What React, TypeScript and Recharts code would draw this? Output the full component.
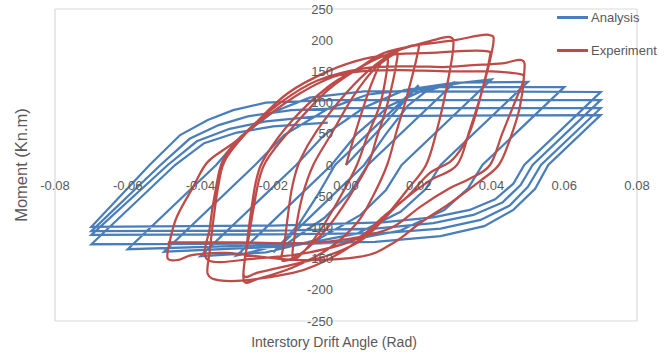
import React from "react";
import { LineChart, Line, XAxis, YAxis, CartesianGrid, ReferenceDot } from "recharts";

type Pt = [number, number];

const xTicks = [-0.08, -0.06, -0.04, -0.02, 0, 0.02, 0.04, 0.06, 0.08];
const yTicks = [-250, -200, -150, -100, -50, 0, 50, 100, 150, 200, 250];

// Analysis: bilinear-ish cycles, drift amplitude grows 0.02 -> 0.07, then repeats at 0.07
const analysisStart: Pt[] = [[0, 0], [0.01, 62], [0.016, 102]];
const analysis002: Pt[] = [[0.02, 128], [-0.003, 0], [-0.008, -50], [-0.013, -95], [-0.02, -140], [0.005, 0], [0.011, 50], [0.017, 95], [0.022, 118]];
const analysis003: Pt[] = [[0.03, 133], [0.006, 0], [0.001, -45], [-0.006, -85], [-0.016, -125], [-0.03, -145], [-0.004, 0], [0.003, 50], [0.012, 95], [0.022, 122], [0.032, 132]];
const analysis004: Pt[] = [[0.04, 137], [0.0153, 0], [0.011, -40], [0.004, -80], [-0.008, -120], [-0.022, -140], [-0.04, -146], [-0.0137, 0], [-0.006, 48], [0.005, 92], [0.016, 120], [0.03, 132]];
const analysis005: Pt[] = [[0.05, 133], [0.026, 0], [0.022, -38], [0.015, -75], [0.003, -110], [-0.015, -130], [-0.05, -139], [-0.025, 0], [-0.017, 48], [-0.005, 90], [0.006, 113], [0.025, 125]];
const analysis006: Pt[] = [[0.06, 125], [0.0375, 0], [0.0335, -38], [0.027, -72], [0.015, -105], [-0.003, -125], [-0.06, -135], [-0.0357, 0], [-0.029, 45], [-0.02, 85], [-0.01, 108], [0.005, 118], [0.02, 118]];
const analysis007a: Pt[] = [[0.07, 117], [0.049, 0], [0.046, -30], [0.041, -55], [0.034, -72], [0.024, -84], [0.01, -92], [-0.02, -97], [-0.07, -99], [-0.054, 0], [-0.0456, 48], [-0.038, 72], [-0.031, 88], [-0.022, 100], [-0.005, 104]];
const analysis007b: Pt[] = [[0.07, 104], [0.0513, 0], [0.048, -32], [0.043, -60], [0.035, -80], [0.024, -93], [0.008, -102], [-0.02, -105], [-0.07, -106], [-0.051, 0], [-0.043, 42], [-0.035, 64], [-0.027, 78], [-0.015, 88], [0, 91]];
const analysis007c: Pt[] = [[0.07, 91], [0.0536, 0], [0.05, -35], [0.045, -65], [0.037, -88], [0.026, -102], [0.01, -109], [-0.02, -111], [-0.07, -112], [-0.049, 0], [-0.041, 38], [-0.032, 58], [-0.022, 70], [-0.008, 78]];
const analysis007d: Pt[] = [[0.07, 80], [0.0556, 0], [0.052, -38], [0.046, -72], [0.038, -98], [0.026, -114], [0.008, -123], [-0.02, -126], [-0.07, -127], [-0.047, 0], [-0.039, 35], [-0.03, 52], [-0.02, 62], [-0.005, 68]];

// Experiment: measured loops from the test
const experimentStart: Pt[] = [[0, 0], [0.003, 60], [0.007, 130]];
const experiment1: Pt[] = [[0.0105, 172], [0.0115, 165], [0.0095, 100], [0.0058, 45], [0.003, 0], [-0.001, -45], [-0.006, -95], [-0.011, -135], [-0.0146, -150], [-0.014, -110], [-0.012, -50], [-0.009, 0], [-0.004, 50], [0.002, 110], [0.008, 155]];
const experiment2: Pt[] = [[0.0135, 178], [0.014, 168], [0.0115, 100], [0.0085, 45], [0.006, 0], [0.001, -50], [-0.005, -100], [-0.012, -140], [-0.0175, -153], [-0.0168, -120], [-0.0155, -60], [-0.0146, -30], [-0.0126, 8], [-0.008, 55], [0, 115], [0.008, 160], [0.015, 185]];
const experiment3: Pt[] = [[0.0195, 192], [0.0197, 179], [0.0167, 109], [0.014, 56], [0.0113, 0], [0.0074, -50], [0.003, -93], [-0.005, -135], [-0.015, -165], [-0.024, -182], [-0.028, -187], [-0.0278, -150], [-0.027, -125], [-0.0255, -72], [-0.0237, -19], [-0.021, 15], [-0.014, 65], [-0.005, 120], [0.005, 160], [0.015, 185], [0.024, 200]];
const experiment4: Pt[] = [[0.0286, 205], [0.0295, 189], [0.0277, 125], [0.025, 56], [0.022, 0], [0.0168, -40], [0.012, -75], [0.0074, -105], [0.003, -125], [-0.005, -145], [-0.015, -160], [-0.024, -172], [-0.028, -178], [-0.0275, -140], [-0.026, -70], [-0.0245, -20], [-0.022, 15], [-0.015, 70], [-0.005, 125], [0.004, 157], [0.0102, 179], [0.0195, 192], [0.03, 200], [0.036, 207]];
const experiment5: Pt[] = [[0.0396, 208], [0.0405, 195], [0.0377, 125], [0.034, 56], [0.0305, 0], [0.023, -25], [0.015, -60], [0.008, -100], [0, -135], [-0.008, -160], [-0.0146, -173], [-0.028, -185], [-0.0346, -185], [-0.038, -175], [-0.0375, -140], [-0.0365, -90], [-0.035, -30], [-0.033, 10], [-0.026, 60], [-0.016, 115], [-0.005, 150], [0.005, 170], [0.015, 178], [0.025, 180], [0.033, 183]];
const experiment6: Pt[] = [[0.039, 182], [0.0395, 172], [0.037, 110], [0.0345, 60], [0.032, 29], [0.0286, 5], [0.023, -13], [0.0168, -51], [0.0102, -83], [0.003, -118], [-0.01, -140], [-0.025, -150], [-0.038, -152], [-0.0374, -99], [-0.036, -45], [-0.0338, 8], [-0.028, 50], [-0.018, 100], [-0.008, 135], [0.005, 155], [0.018, 158], [0.0267, 157], [0.035, 160], [0.043, 163]];
const experiment7: Pt[] = [[0.0484, 168], [0.049, 147], [0.0478, 93], [0.045, 40], [0.042, 0], [0.037, -25], [0.0286, -61], [0.0204, -93], [0.013, -125], [0.004, -147], [-0.0146, -152], [-0.0327, -141], [-0.042, -144], [-0.046, -152], [-0.049, -150], [-0.0485, -124], [-0.0465, -83], [-0.042, -35], [-0.038, 5], [-0.031, 35], [-0.022, 77], [-0.0126, 115], [-0.0036, 141], [0.004, 150], [0.015, 152], [0.03, 150], [0.04, 150], [0.045, 148]];
const experiment8: Pt[] = [[0.0487, 144], [0.0485, 130], [0.047, 109], [0.043, 51], [0.0396, 0], [0.034, -22], [0.0286, -37], [0.0204, -67], [0.013, -99], [0.004, -115], [-0.01, -125], [-0.03, -124], [-0.049, -124]];

const toPoints = (cycles: Pt[][]) => cycles.flat().map(([x, y]) => ({ x, y }));

const analysisData = toPoints([analysisStart, analysis002, analysis003, analysis004, analysis005, analysis006, analysis007a, analysis007b, analysis007c, analysis007d]);
const experimentData = toPoints([experimentStart, experiment1, experiment2, experiment3, experiment4, experiment5, experiment6, experiment7, experiment8]);

const series = [
  { name: "Analysis", color: "#4a7ebb", data: analysisData, smooth: false },
  { name: "Experiment", color: "#be4b48", data: experimentData, smooth: true },
];

const textColor = "#595959";

// uniform catmull-rom through every point, close to Excel's smoothed scatter lines
const catmullRom = (context: any) => {
  let pts: Pt[] = [];
  return {
    areaStart() {},
    areaEnd() {},
    lineStart() {
      pts = [];
    },
    lineEnd() {
      if (!pts.length) return;
      context.moveTo(pts[0][0], pts[0][1]);
      for (let i = 0; i < pts.length - 1; i++) {
        const p0 = pts[Math.max(i - 1, 0)];
        const p1 = pts[i];
        const p2 = pts[i + 1];
        const p3 = pts[Math.min(i + 2, pts.length - 1)];
        context.bezierCurveTo(
          p1[0] + (p2[0] - p0[0]) / 6,
          p1[1] + (p2[1] - p0[1]) / 6,
          p2[0] - (p3[0] - p1[0]) / 6,
          p2[1] - (p3[1] - p1[1]) / 6,
          p2[0],
          p2[1]
        );
      }
    },
    point(x: number, y: number) {
      pts.push([+x, +y]);
    },
  };
};

const HysteresisLegend = () => (
  <div style={{ position: "absolute", left: 557, top: 7 }}>
    {series.map((s) => (
      <div key={s.name} style={{ display: "flex", alignItems: "center", height: 20, marginBottom: 13 }}>
        <span style={{ width: 31, height: 3, background: s.color, marginRight: 3 }} />
        <span style={{ fontSize: 13, color: textColor }}>{s.name}</span>
      </div>
    ))}
  </div>
);

export default function App() {
  return (
    <div
      style={{
        position: "absolute",
        left: 0,
        top: 0,
        width: 670,
        height: 356,
        background: "#fff",
        fontFamily: "'Liberation Sans', Arial, sans-serif",
      }}
    >
      <LineChart width={670} height={356} margin={{ top: 9, right: 33, bottom: 0, left: 0 }}>
        <CartesianGrid stroke="#d9d9d9" strokeWidth={1.2} />
        <XAxis
          type="number"
          dataKey="x"
          domain={[-0.08, 0.08]}
          ticks={xTicks}
          allowDataOverflow
          tick={false}
          axisLine={false}
          tickLine={false}
          height={35}
          label={{ value: "Interstory Drift Angle (Rad)", position: "insideBottom", offset: 9, dx: -12, fill: textColor, fontSize: 14 }}
        />
        <YAxis
          type="number"
          domain={[-250, 250]}
          ticks={yTicks}
          allowDataOverflow
          tick={false}
          axisLine={false}
          tickLine={false}
          width={55}
          label={{
            value: "Moment (Kn.m)",
            angle: -90,
            position: "insideLeft",
            offset: 21,
            fill: textColor,
            fontSize: 16.5,
            style: { textAnchor: "middle" },
          }}
        />
        {xTicks.map((t) => (
          <ReferenceDot
            key={`x${t}`}
            x={t}
            y={0}
            r={0}
            fill="none"
            stroke="none"
            label={{ value: t.toFixed(2), position: "bottom", offset: 16, fill: textColor, fontSize: 13 }}
          />
        ))}
        {yTicks.map((t) => (
          <ReferenceDot
            key={`y${t}`}
            x={0}
            y={t}
            r={0}
            fill="none"
            stroke="none"
            label={{ value: String(t), position: "left", offset: 13, fill: textColor, fontSize: 13 }}
          />
        ))}
        {series.map((s) => (
          <Line
            key={s.name}
            name={s.name}
            data={s.data}
            dataKey="y"
            type={s.smooth ? (catmullRom as any) : "linear"}
            stroke={s.color}
            strokeWidth={2.25}
            dot={false}
            activeDot={false}
            isAnimationActive={false}
          />
        ))}
      </LineChart>
      <HysteresisLegend />
    </div>
  );
}
